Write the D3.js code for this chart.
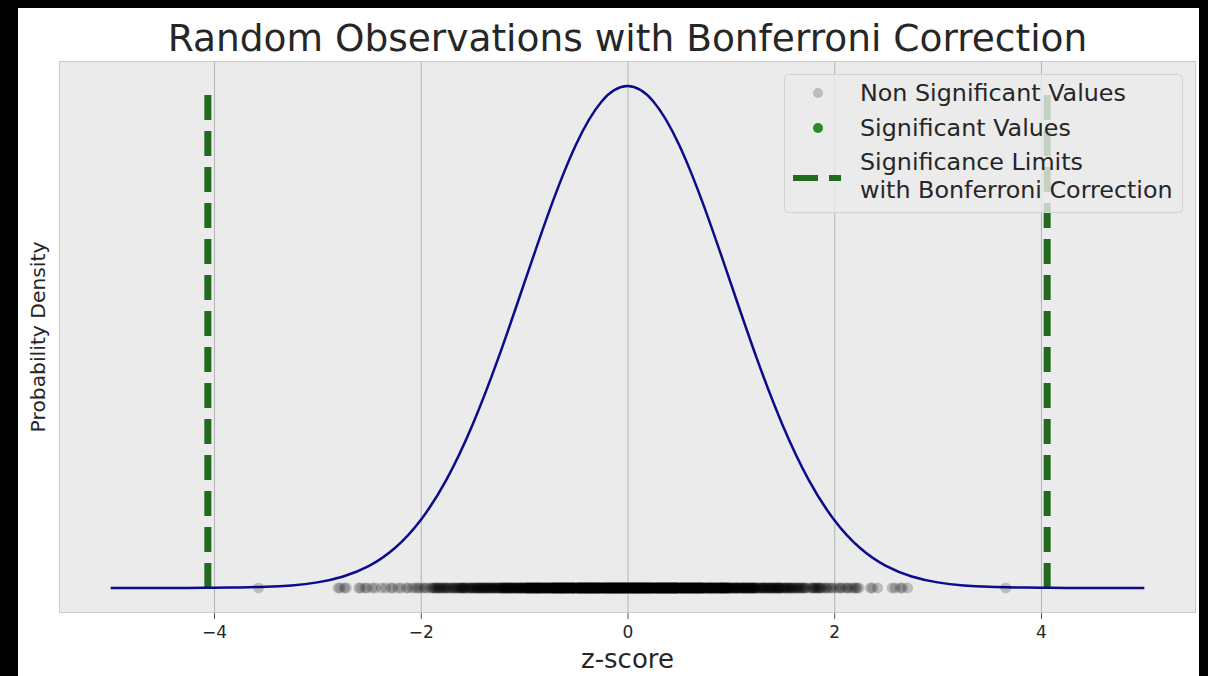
<!DOCTYPE html>
<html>
<head>
<meta charset="utf-8">
<script src="https://cdn.jsdelivr.net/npm/d3@7"></script>
<style>
  html, body { margin: 0; padding: 0; background: #000; }
  svg { display: block; font-family: "DejaVu Sans", "Liberation Sans", sans-serif; }
</style>
</head>
<body>
<svg id="chart" width="1208" height="676"></svg>
<script>
// ---- data ----------------------------------------------------------------
const titleText = "Random Observations with Bonferroni Correction";
const xLabel = "z-score";
const yLabel = "Probability Density";
const xTicks = [-4, -2, 0, 2, 4];

// standard normal density, sampled along the z axis
const curveZ = [-5, -4.75, -4.5, -4.25, -4, -3.75, -3.5, -3.25, -3, -2.75, -2.5, -2.25, -2, -1.75, -1.5, -1.25, -1, -0.75, -0.5, -0.25,
                0, 0.25, 0.5, 0.75, 1, 1.25, 1.5, 1.75, 2, 2.25, 2.5, 2.75, 3, 3.25, 3.5, 3.75, 4, 4.25, 4.5, 4.75, 5];
const curveDensity = [0.0000, 0.0000, 0.0000, 0.0000, 0.0001, 0.0004, 0.0009, 0.0020, 0.0044, 0.0091, 0.0175, 0.0317, 0.0540, 0.0863, 0.1295, 0.1826, 0.2420, 0.3011, 0.3521, 0.3867,
                      0.3989, 0.3867, 0.3521, 0.3011, 0.2420, 0.1826, 0.1295, 0.0863, 0.0540, 0.0317, 0.0175, 0.0091, 0.0044, 0.0020, 0.0009, 0.0004, 0.0001, 0.0000, 0.0000, 0.0000, 0.0000];

// Bonferroni-corrected two-sided limits (alpha = 0.05, n = 1000)
const limits = [-4.06, 4.06];
const limitTop = 0.3989;

// observed z-scores (none exceed the corrected limits)
const observations = [
  -3.57,
  -2.80,-2.78,-2.74,-2.72,-2.60,-2.58,-2.54,-2.52,
  -2.47,-2.44,-2.38,-2.34,-2.29,-2.27,-2.22,-2.19,-2.14,-2.12,-2.08,-2.05,-2.01,-2.03,-1.96,-1.94,-1.98,
  -1.76,-1.79,-1.83,-1.78,-1.86,-1.81,-1.89,-1.77,-1.84,-1.91,-1.80,-1.87,-1.82,-1.75,-1.88,-1.85,
  -1.52,-1.58,-1.61,-1.55,-1.67,-1.63,-1.70,-1.54,-1.59,-1.66,-1.73,-1.57,-1.62,-1.69,-1.51,-1.65,-1.60,-1.56,
  -1.53,-1.64,-1.71,-1.58,-1.68,-1.61,-1.74,-1.50,
  -1.26,-1.38,-1.47,-1.31,-1.43,-1.29,-1.49,-1.35,-1.41,-1.27,-1.34,-1.45,-1.39,-1.30,-1.48,-1.37,-1.33,-1.44,-1.28,-1.40,-1.46,-1.32,-1.36,-1.42,-1.50,
  -1.29,-1.41,-1.35,-1.46,-1.27,-1.39,-1.32,-1.44,-1.37,
  -1.01,-1.13,-1.22,-1.06,-1.18,-1.04,-1.24,-1.10,-1.16,-1.02,-1.09,-1.20,-1.14,-1.05,-1.23,-1.12,-1.08,-1.19,-1.03,-1.15,-1.21,-1.07,-1.11,-1.17,-1.25,
  -1.04,-1.16,-1.10,-1.21,-1.02,-1.14,-1.07,-1.19,-1.12,-1.24,-1.05,-1.18,-1.01,-1.13,-1.22,-1.08,-1.15,-1.03,-1.20,-1.11,-1.17,-1.06,
  -0.76,-0.88,-0.97,-0.81,-0.93,-0.79,-0.99,-0.85,-0.91,-0.77,-0.84,-0.95,-0.89,-0.80,-0.98,-0.87,-0.83,-0.94,-0.78,-0.90,-0.96,-0.82,-0.86,-0.92,-1.00,
  -0.79,-0.91,-0.85,-0.96,-0.77,-0.89,-0.82,-0.94,-0.87,-0.99,-0.80,-0.93,-0.76,-0.88,-0.97,-0.83,-0.90,-0.78,-0.95,-0.86,-0.92,-0.81,-0.98,-0.84,-0.89,
  -0.81,-0.94,-0.77,-0.86,-0.98,-0.83,-0.91,-0.79,-0.96,-0.88,-0.85,-0.93,-0.76,-0.90,-0.80,-0.97,-0.87,
  -0.51,-0.63,-0.72,-0.56,-0.68,-0.54,-0.74,-0.60,-0.66,-0.52,-0.59,-0.70,-0.64,-0.55,-0.73,-0.62,-0.58,-0.69,-0.53,-0.65,-0.71,-0.57,-0.61,-0.67,-0.75,
  -0.54,-0.66,-0.60,-0.71,-0.52,-0.64,-0.57,-0.69,-0.62,-0.74,-0.55,-0.68,-0.51,-0.63,-0.72,-0.58,-0.65,-0.53,-0.70,-0.61,-0.67,-0.56,-0.73,-0.59,-0.64,
  -0.56,-0.69,-0.52,-0.61,-0.73,-0.58,-0.66,-0.54,-0.71,-0.63,-0.60,-0.68,-0.51,-0.65,-0.55,-0.72,-0.62,-0.57,-0.70,-0.53,-0.67,-0.59,-0.74,-0.64,-0.61,
  -0.68,-0.53,-0.62,-0.71,-0.57,-0.65,-0.52,
  -0.26,-0.38,-0.47,-0.31,-0.43,-0.29,-0.49,-0.35,-0.41,-0.27,-0.34,-0.45,-0.39,-0.30,-0.48,-0.37,-0.33,-0.44,-0.28,-0.40,-0.46,-0.32,-0.36,-0.42,-0.50,
  -0.29,-0.41,-0.35,-0.46,-0.27,-0.39,-0.32,-0.44,-0.37,-0.49,-0.30,-0.43,-0.26,-0.38,-0.47,-0.33,-0.40,-0.28,-0.45,-0.36,-0.42,-0.31,-0.48,-0.34,-0.39,
  -0.31,-0.44,-0.27,-0.36,-0.48,-0.33,-0.41,-0.29,-0.46,-0.38,-0.35,-0.43,-0.26,-0.40,-0.30,-0.47,-0.37,-0.32,-0.45,-0.28,-0.42,-0.34,-0.49,-0.39,-0.36,
  -0.43,-0.28,-0.37,-0.46,-0.32,-0.40,-0.27,-0.35,-0.48,-0.30,-0.44,-0.38,-0.33,-0.41,-0.26,-0.47,-0.34,
  -0.01,-0.13,-0.22,-0.07,-0.18,-0.04,-0.24,-0.11,-0.16,-0.02,-0.09,-0.20,-0.14,-0.05,-0.23,-0.12,-0.08,-0.19,-0.03,-0.15,-0.21,-0.06,-0.10,-0.17,-0.25,
  -0.02,-0.14,-0.19,-0.08,-0.23,-0.05,-0.12,-0.17,-0.01,-0.10,-0.21,-0.04,-0.15,-0.07,-0.24,-0.13,-0.09,-0.18,-0.03,-0.20,-0.11,-0.16,-0.06,-0.22,-0.12,
  -0.03,-0.17,-0.09,-0.21,-0.01,-0.14,-0.06,-0.19,-0.11,-0.24,-0.04,-0.15,-0.08,-0.22,-0.02,-0.13,-0.18,-0.05,-0.20,-0.10,-0.16,-0.07,-0.23,-0.12,-0.14,
  -0.05,-0.19,-0.02,-0.16,-0.09,-0.22,-0.04,-0.13,-0.18,-0.07,-0.11,-0.24,-0.01,-0.15,-0.20,-0.06,-0.10,-0.17,-0.03,-0.21,
  0.02,0.15,0.08,0.21,0.11,0.04,0.18,0.13,0.24,0.06,0.10,0.19,0.01,0.16,0.09,0.23,0.05,0.14,0.20,0.03,0.12,0.17,0.07,0.22,0.00,
  0.14,0.03,0.19,0.08,0.24,0.11,0.05,0.16,0.21,0.02,0.13,0.09,0.18,0.06,0.23,0.10,0.01,0.15,0.20,0.04,0.12,0.17,0.07,0.22,0.08,
  0.06,0.18,0.11,0.23,0.03,0.14,0.20,0.09,0.01,0.16,0.12,0.05,0.21,0.08,0.19,0.02,0.13,0.24,0.07,0.17,0.10,0.04,0.15,0.22,0.11,
  0.09,0.20,0.04,0.16,0.13,0.01,0.23,0.07,0.18,0.10,0.03,0.14,0.21,0.06,0.12,0.19,0.02,0.17,0.08,0.24,
  0.27,0.39,0.31,0.46,0.34,0.42,0.29,0.48,0.36,0.26,0.41,0.33,0.45,0.38,0.30,0.47,0.35,0.43,0.28,0.40,0.49,0.32,0.44,0.37,0.25,
  0.33,0.45,0.28,0.40,0.36,0.48,0.31,0.43,0.26,0.38,0.46,0.30,0.41,0.35,0.49,0.27,0.39,0.44,0.32,0.47,0.34,0.42,0.29,0.37,0.41,
  0.30,0.43,0.36,0.26,0.47,0.39,0.32,0.45,0.28,0.41,0.35,0.48,0.31,0.44,0.38,0.27,0.42,0.34,0.46,0.29,0.40,0.33,0.49,0.37,0.44,
  0.39,0.28,0.46,0.35,0.31,0.43,0.26,0.40,0.48,0.33,0.37,0.29,0.45,0.42,0.30,0.47,0.36,
  0.52,0.64,0.56,0.71,0.59,0.67,0.54,0.73,0.61,0.51,0.66,0.58,0.70,0.63,0.55,0.72,0.60,0.68,0.53,0.65,0.74,0.57,0.69,0.62,0.50,
  0.58,0.70,0.53,0.65,0.61,0.73,0.56,0.68,0.51,0.63,0.71,0.55,0.66,0.60,0.74,0.52,0.64,0.69,0.57,0.72,0.59,0.67,0.54,0.62,0.66,
  0.55,0.68,0.61,0.51,0.72,0.64,0.57,0.70,0.53,0.66,0.60,0.73,0.56,0.69,0.63,0.52,0.67,0.59,0.71,0.54,0.65,0.58,0.74,0.62,0.69,
  0.64,0.53,0.71,0.60,0.56,0.68,0.51,
  0.77,0.89,0.81,0.96,0.84,0.92,0.79,0.98,0.86,0.76,0.91,0.83,0.95,0.88,0.80,0.97,0.85,0.93,0.78,0.90,0.99,0.82,0.94,0.87,0.75,
  0.83,0.95,0.78,0.90,0.86,0.98,0.81,0.93,0.76,0.88,0.96,0.80,0.91,0.85,0.99,0.77,0.89,0.94,0.82,0.97,0.84,0.92,0.79,0.87,0.91,
  0.80,0.93,0.86,0.76,0.97,0.89,0.82,0.95,0.78,0.91,0.85,0.98,0.81,0.94,0.88,0.77,0.92,
  1.02,1.14,1.06,1.21,1.09,1.17,1.04,1.23,1.11,1.01,1.16,1.08,1.20,1.13,1.05,1.22,1.10,1.18,1.03,1.15,1.24,1.07,1.19,1.12,1.00,
  1.08,1.20,1.03,1.15,1.11,1.23,1.06,1.18,1.01,1.13,1.21,1.05,1.16,1.10,1.24,1.02,1.14,1.19,1.07,1.22,1.12,1.04,1.17,
  1.27,1.39,1.31,1.46,1.34,1.42,1.29,1.48,1.36,1.26,1.41,1.33,1.45,1.38,1.30,1.47,1.35,1.43,1.28,1.40,1.49,1.32,1.44,1.37,1.25,
  1.33,1.45,1.28,1.40,1.36,1.48,1.31,1.43,1.38,1.46,
  1.51,1.56,1.62,1.53,1.67,1.59,1.71,1.54,1.64,1.58,1.69,1.52,1.61,1.73,1.57,1.66,1.63,1.55,1.70,1.60,
  1.53,1.65,1.72,1.58,1.68,1.50,
  1.76,1.81,1.85,1.78,1.92,1.83,1.88,1.95,1.79,1.86,1.99,1.82,1.90,1.97,1.84,1.80,1.87,1.93,
  2.02,2.05,2.08,2.11,2.14,2.17,2.19,2.22,2.24,2.06,2.13,2.21,
  2.35,2.37,2.42,2.56,2.59,2.64,2.66,2.71,
  3.66
];

const legendLabels = [["Non Significant Values"], ["Significant Values"], ["Significance Limits", "with Bonferroni Correction"]];

// ---- drawing -------------------------------------------------------------
const svg = d3.select("#chart");
const W = 1208, H = 676;
const plot = { left: 59, top: 61, right: 1196, bottom: 613 };

const colors = {
  face: "#ebebeb",
  grid: "#b3b3b3",
  frame: "#c9c9c9",
  curve: "#0b0b8c",
  limit: "#226a1d",
  sig: "#2a8a22",
  text: "#262626"
};

// figure background with the dark outer frame
svg.append("rect").attr("width", W).attr("height", H).attr("fill", "#000");
svg.append("rect").attr("x", 18).attr("y", 8).attr("width", 1181).attr("height", 668).attr("fill", "#fff");

const x = d3.scaleLinear().domain([-5.5, 5.5]).range([plot.left, plot.right]);
const y = d3.scaleLinear().domain([-0.01995, 0.41885]).range([plot.bottom, plot.top]);

// axes face
svg.append("rect")
  .attr("x", plot.left).attr("y", plot.top)
  .attr("width", plot.right - plot.left).attr("height", plot.bottom - plot.top)
  .attr("fill", colors.face);

// vertical grid lines
svg.append("g")
  .attr("transform", `translate(0,${plot.bottom})`)
  .call(d3.axisBottom(x).tickValues(xTicks).tickSize(-(plot.bottom - plot.top)).tickFormat(""))
  .call(g => g.select(".domain").remove())
  .call(g => g.selectAll("line").attr("stroke", colors.grid).attr("stroke-width", 1));

// axes frame
svg.append("rect")
  .attr("x", plot.left + 0.5).attr("y", plot.top + 0.5)
  .attr("width", plot.right - plot.left - 1).attr("height", plot.bottom - plot.top - 1)
  .attr("fill", "none").attr("stroke", colors.frame).attr("stroke-width", 1);

// x axis ticks and labels
const fmt = d => d < 0 ? "\u2212" + Math.abs(d) : String(d);
svg.append("g")
  .attr("transform", `translate(0,${plot.bottom})`)
  .call(d3.axisBottom(x).tickValues(xTicks).tickSize(6).tickPadding(7).tickFormat(fmt))
  .call(g => g.select(".domain").remove())
  .call(g => g.selectAll("line").attr("stroke", "#555").attr("stroke-width", 1))
  .call(g => g.selectAll("text")
      .attr("fill", colors.text)
      .style("font-family", "'DejaVu Sans', sans-serif")
      .style("font-size", "17px"));

// significance limits (dashed, drawn from the baseline upward)
svg.append("g").selectAll("line")
  .data(limits)
  .join("line")
  .attr("x1", d => x(d)).attr("x2", d => x(d))
  .attr("y1", y(0)).attr("y2", y(limitTop))
  .attr("stroke", colors.limit)
  .attr("stroke-width", 7)
  .attr("stroke-dasharray", "25,11");

// density curve
const curvePts = curveZ.map((z, i) => [z, curveDensity[i]]);
svg.append("path")
  .datum(curvePts)
  .attr("fill", "none")
  .attr("stroke", colors.curve)
  .attr("stroke-width", 2.5)
  .attr("d", d3.line().x(d => x(d[0])).y(d => y(d[1])).curve(d3.curveNatural));

// observations along the baseline
svg.append("g").selectAll("circle")
  .data(observations)
  .join("circle")
  .attr("cx", d => x(d))
  .attr("cy", y(0))
  .attr("r", 5.5)
  .attr("fill", "#000")
  .attr("fill-opacity", 0.2);

// title and axis labels
svg.append("text")
  .attr("x", (plot.left + plot.right) / 2).attr("y", 51)
  .attr("text-anchor", "middle")
  .attr("fill", colors.text)
  .style("font-size", "37.5px")
  .text(titleText);

svg.append("text")
  .attr("x", (plot.left + plot.right) / 2).attr("y", 668)
  .attr("text-anchor", "middle")
  .attr("fill", colors.text)
  .style("font-size", "26px")
  .text(xLabel);

svg.append("text")
  .attr("transform", `translate(45,${(plot.top + plot.bottom) / 2}) rotate(-90)`)
  .attr("text-anchor", "middle")
  .attr("fill", colors.text)
  .style("font-size", "20.3px")
  .text(yLabel);

// legend
const lg = svg.append("g");
lg.append("rect")
  .attr("x", 784.5).attr("y", 74.5).attr("width", 398).attr("height", 138)
  .attr("rx", 4).attr("ry", 4)
  .attr("fill", colors.face).attr("fill-opacity", 0.8)
  .attr("stroke", "#d2d2d2").attr("stroke-width", 1);

lg.append("circle").attr("cx", 818).attr("cy", 93).attr("r", 5)
  .attr("fill", "#000").attr("fill-opacity", 0.2);
lg.append("circle").attr("cx", 818).attr("cy", 128).attr("r", 5)
  .attr("fill", colors.sig);
lg.append("line")
  .attr("x1", 793).attr("x2", 841).attr("y1", 178).attr("y2", 178)
  .attr("stroke", colors.limit).attr("stroke-width", 6)
  .attr("stroke-dasharray", "25,11");

const baselines = [[101], [136], [170, 198]];
legendLabels.forEach((lines, i) => {
  lines.forEach((t, j) => {
    lg.append("text")
      .attr("x", 860).attr("y", baselines[i][j])
      .attr("fill", colors.text)
      .style("font-size", "23.8px")
      .text(t);
  });
});
</script>
</body>
</html>
